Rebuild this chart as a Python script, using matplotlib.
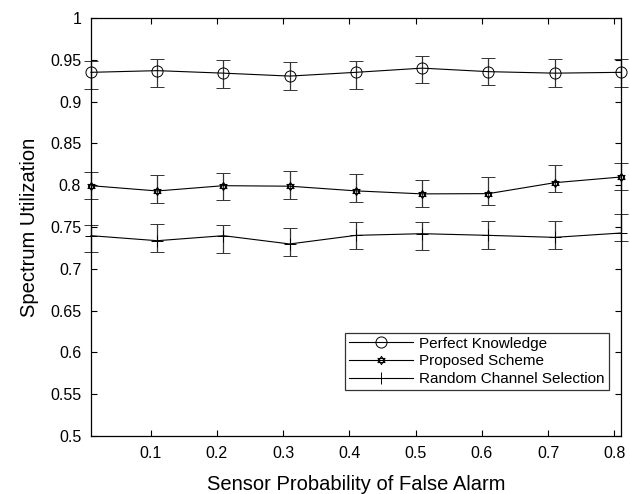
import matplotlib
matplotlib.use("Agg")
import matplotlib.pyplot as plt
from matplotlib.path import Path
import numpy as np

plt.rcParams["font.family"] = ["Liberation Sans", "DejaVu Sans"]

# sensor probability of false alarm
pfa = [0.01, 0.11, 0.21, 0.31, 0.41, 0.51, 0.61, 0.71, 0.81]

perfect = [0.935, 0.937, 0.934, 0.9305, 0.935, 0.940, 0.9358, 0.934, 0.935]
perfect_hi = [0.9486, 0.951, 0.950, 0.9478, 0.948, 0.955, 0.9526, 0.951, 0.9506]
perfect_lo = [0.9147, 0.9175, 0.916, 0.914, 0.915, 0.922, 0.9195, 0.9175, 0.9175]

proposed = [0.7994, 0.7931, 0.7994, 0.7988, 0.7932, 0.7896, 0.7899, 0.803, 0.8098]
proposed_hi = [0.8162, 0.8122, 0.815, 0.8165, 0.8129, 0.8068, 0.8094, 0.8246, 0.827]
proposed_lo = [0.7831, 0.7791, 0.7823, 0.783, 0.7795, 0.7735, 0.7763, 0.7915, 0.7943]

rand_sel = [0.7396, 0.7336, 0.7396, 0.7297, 0.740, 0.742, 0.740, 0.7376, 0.7428]
rand_hi = [0.7524, 0.753, 0.7524, 0.7484, 0.7564, 0.7556, 0.7576, 0.757, 0.7659]
rand_lo = [0.7205, 0.720, 0.7193, 0.7157, 0.7233, 0.7225, 0.7241, 0.724, 0.7329]

labels = ["Perfect Knowledge", "Proposed Scheme", "Random Channel Selection"]


def hexagram():
    "Star of David marker made from two triangles"
    up = [(np.cos(a), np.sin(a)) for a in np.pi / 2 + np.arange(3) * 2 * np.pi / 3]
    dn = [(np.cos(a), np.sin(a)) for a in -np.pi / 2 + np.arange(3) * 2 * np.pi / 3]
    verts = up + [up[0]] + dn + [dn[0]]
    codes = [Path.MOVETO, Path.LINETO, Path.LINETO, Path.CLOSEPOLY] * 2
    return Path(verts, codes)


def yerr(vals, hi, lo):
    v = np.array(vals)
    return [v - np.array(lo), np.array(hi) - v]


fig = plt.figure(figsize=(6.3, 4.94), dpi=100)
ax = fig.add_axes([0.1444, 0.1174, 0.8413, 0.8462])

series = [
    (perfect, perfect_hi, perfect_lo, "o", 8),
    (proposed, proposed_hi, proposed_lo, hexagram(), 6),
    (rand_sel, rand_hi, rand_lo, "+", 9),
]
for (vals, hi, lo, mk, ms), lab in zip(series, labels):
    ax.errorbar(pfa, vals, yerr=yerr(vals, hi, lo), color="black",
                ecolor="#333333", elinewidth=0.9, capsize=5, capthick=0.9,
                marker=mk, markersize=ms, markerfacecolor="none",
                markeredgecolor="black", markeredgewidth=0.7,
                linewidth=0.8, label=lab, clip_on=False)

ax.set_xlim(0.01, 0.81)
ax.set_ylim(0.5, 1.0)
ax.set_xticks([0.1, 0.2, 0.3, 0.4, 0.5, 0.6, 0.7, 0.8])
ax.set_xticklabels(["0.1", "0.2", "0.3", "0.4", "0.5", "0.6", "0.7", "0.8"])
yt = np.round(np.arange(0.5, 1.001, 0.05), 2)
ax.set_yticks(yt)
ax.set_yticklabels(["%g" % v for v in yt])
ax.tick_params(direction="in", top=True, right=True, length=4, width=0.8,
               labelsize=11.5, pad=7)
for s in ax.spines.values():
    s.set_linewidth(0.9)

ax.set_xlabel("Sensor Probability of False Alarm", fontsize=14.5, labelpad=10)
ax.set_ylabel("Spectrum Utilization", fontsize=14.5, labelpad=8)

handles, labs = ax.get_legend_handles_labels()
handles = [h[0] for h in handles]
leg = ax.legend(handles, labs, loc="lower right", bbox_to_anchor=(0.977, 0.11),
                fontsize=11, frameon=True, fancybox=False, edgecolor="black",
                handlelength=4.2, handletextpad=0.4, borderpad=0.25,
                labelspacing=0.25, numpoints=1, borderaxespad=0)
leg.get_frame().set_linewidth(0.9)

fig.savefig("out.png", dpi=100)
